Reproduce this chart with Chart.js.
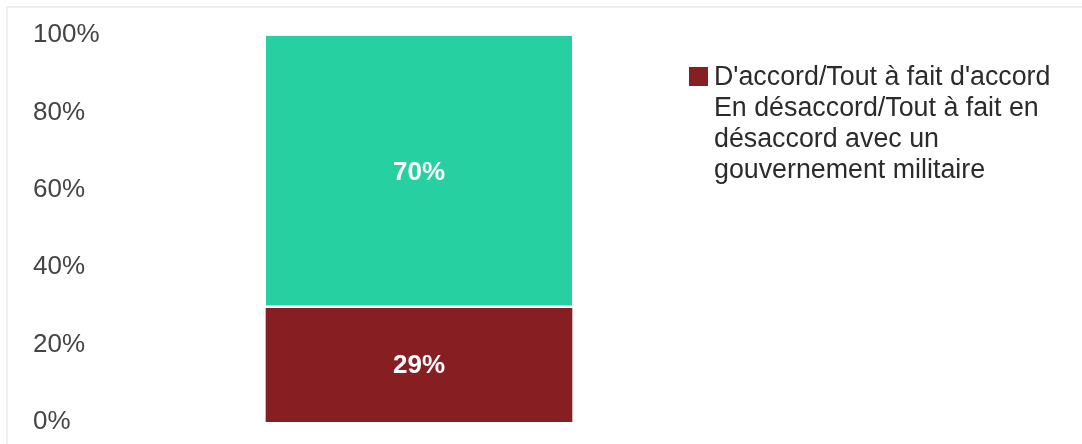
<!DOCTYPE html>
<html>
<head>
<meta charset="utf-8">
<script src="https://cdn.jsdelivr.net/npm/chart.js@4.4.1/dist/chart.umd.min.js"></script>
<style>
  html, body { margin: 0; padding: 0; background: #fff; }
  #wrap { position: relative; width: 1082px; height: 444px; overflow: hidden; font-family: "Liberation Sans", Arial, sans-serif; }
  #frame { position: absolute; left: 6px; top: 6px; right: 0; bottom: 0; border-top: 2px solid #efefef; border-left: 2px solid #efefef; }
  #chartBox { position: absolute; left: 0; top: 0; width: 740px; height: 444px; }
  #legend { position: absolute; left: 689px; top: 61px; width: 380px; font-size: 26.8px; line-height: 31px; color: #2b2b2b; }
  .item { display: flex; align-items: flex-start; }
  .box { flex: 0 0 19px; width: 19px; height: 19px; margin: 6px 6px 0 0; }
  .txt { width: 350px; }
</style>
</head>
<body>
<div id="wrap">
  <div id="frame"></div>
  <div id="chartBox"><canvas id="c"></canvas></div>
  <div id="legend"></div>
</div>
<script>
// --- données ---
const categories = [''];
const seriesNames = ["D'accord/Tout à fait d'accord", "En désaccord/Tout à fait en désaccord avec un gouvernement militaire"];
const agreeValues = [29.4];
const disagreeValues = [70.4];
const tickLabels = ['0%', '20%', '40%', '60%', '80%', '100%'];
const colors = ['#861e22', '#26d0a1'];

// étiquettes au centre des barres
const barLabels = {
    id: 'barLabels',
    afterDatasetsDraw(chart) {
        const ctx = chart.ctx;
        ctx.save();
        ctx.font = 'bold 26px "Liberation Sans", Arial, sans-serif';
        ctx.fillStyle = '#fff';
        ctx.textAlign = 'center';
        ctx.textBaseline = 'middle';
        chart.data.datasets.forEach((ds, i) => {
            chart.getDatasetMeta(i).data.forEach((bar, j) => {
                const p = bar.getProps(['x', 'y', 'base'], true);
                ctx.fillText(Math.round(ds.data[j]) + '%', p.x, (p.y + p.base) / 2 + 1);
            });
        });
        ctx.restore();
    }
};

new Chart(document.getElementById('c'), {
    type: 'bar',
    data: {
        labels: categories,
        datasets: [
            { label: seriesNames[0], data: agreeValues, backgroundColor: colors[0],
              borderColor: '#fff', borderWidth: 0, borderSkipped: false, barThickness: 306 },
            { label: seriesNames[1], data: disagreeValues, backgroundColor: colors[1],
              borderColor: '#fff', borderWidth: { top: 0, left: 0, right: 0, bottom: 3 }, borderSkipped: false, barThickness: 306 }
        ]
    },
    options: {
        responsive: true, maintainAspectRatio: false, animation: false,
        layout: { padding: { left: 33, top: 35, right: 22, bottom: 22 } },
        plugins: { legend: { display: false }, tooltip: { enabled: false } },
        scales: {
            x: { stacked: true, display: false },
            y: {
                stacked: true, min: 0, max: 100,
                border: { display: false },
                grid: { display: false, drawTicks: false },
                afterFit: s => { s.width = 87; },
                afterBuildTicks: s => { s.ticks = tickLabels.map(t => ({ value: parseFloat(t) })); },
                ticks: {
                    crossAlign: 'far', padding: 0, color: '#444',
                    font: { family: '"Liberation Sans", Arial, sans-serif', size: 26 },
                    callback: (v, i) => tickLabels[i]
                }
            }
        }
    },
    plugins: [barLabels]
});

// légende HTML
document.getElementById('legend').innerHTML = seriesNames.map((n, i) => `
    <div class="item">
        <span class="box" style="background:${i === 0 ? colors[0] : 'transparent'}"></span>
        <span class="txt">${n}</span>
    </div>`).join('');
</script>
</body>
</html>
